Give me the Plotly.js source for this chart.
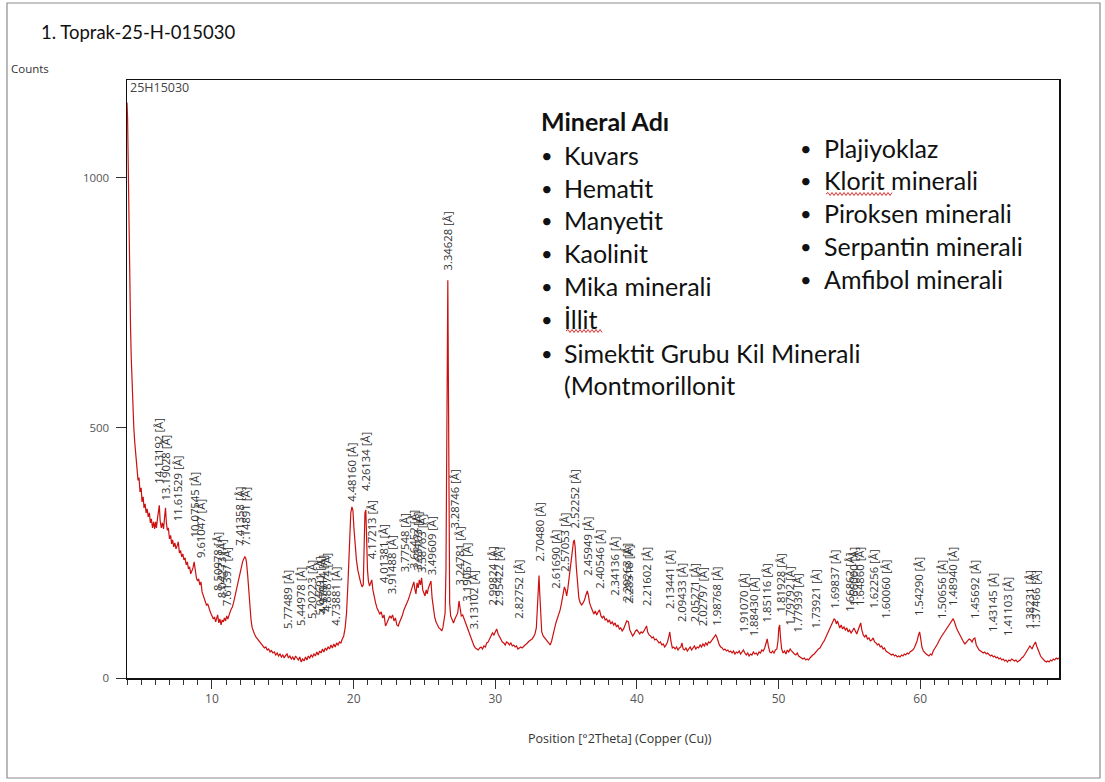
<!DOCTYPE html>
<html>
<head>
<meta charset="utf-8">
<script src="https://cdn.plot.ly/plotly-3.0.1.min.js"></script>
<style>
  html, body { margin: 0; padding: 0; background: #fff; }
  #chart { width: 1105px; height: 782px; }
</style>
</head>
<body>
<div id="chart"></div>
<script>
// ---------- DATA ----------
const twoTheta = [
4.00,4.04,4.08,4.12,4.16,4.20,4.25,4.30,4.36,4.42,4.48,4.55,4.62,4.70,4.78,4.85,4.92,5.00,5.06,5.14,5.20,5.28,5.35,5.42,5.50,5.58,5.65,5.72,5.80,5.88,5.95,6.02,6.08,6.15,6.22,6.28,6.34,6.42,6.50,6.58,6.65,6.72,6.78,6.85,6.92,7.00,7.08,7.15,7.22,7.30,7.38,7.46,7.55,7.62,7.70,7.78,7.86,7.94,8.02,8.10,8.18,8.26,8.34,8.42,8.50,8.58,8.66,8.74,8.82,8.90,8.98,9.06,9.14,9.22,9.30,9.38,9.46,9.54,9.62,9.70,9.78,9.86,9.94,10.02,10.10,10.18,10.26,10.34,10.40,10.48,10.56,10.64,10.72,10.80,10.88,10.96,11.04,11.12,11.20,11.28,11.36,11.44,11.52,11.60,11.68,11.76,11.84,11.92,12.00,12.08,12.16,12.24,12.32,12.38,12.44,12.52,12.60,12.68,12.76,12.84,12.92,13.00,13.10,13.20,13.30,13.40,13.50,13.60,13.70,13.80,13.90,14.00,14.10,14.20,14.30,14.40,14.50,14.60,14.70,14.80,14.90,15.00,15.10,15.20,15.30,15.40,15.50,15.60,15.70,15.80,15.90,16.00,16.10,16.20,16.30,16.40,16.50,16.60,16.70,16.80,16.90,17.00,17.10,17.20,17.30,17.40,17.50,17.60,17.70,17.80,17.90,18.00,18.10,18.20,18.30,18.40,18.50,18.60,18.70,18.80,18.90,19.00,19.10,19.20,19.30,19.40,19.50,19.60,19.70,19.80,19.88,19.95,20.02,20.10,20.20,20.30,20.40,20.50,20.60,20.68,20.74,20.80,20.86,20.92,20.98,21.05,21.12,21.20,21.28,21.36,21.45,21.55,21.65,21.75,21.85,21.95,22.05,22.15,22.25,22.35,22.45,22.55,22.65,22.75,22.85,22.95,23.05,23.15,23.25,23.35,23.45,23.55,23.65,23.75,23.85,23.95,24.05,24.15,24.25,24.32,24.40,24.48,24.56,24.64,24.72,24.80,24.88,24.96,25.04,25.12,25.20,25.28,25.36,25.46,25.54,25.62,25.72,25.82,25.92,26.02,26.12,26.22,26.30,26.38,26.46,26.52,26.57,26.61,26.65,26.69,26.73,26.78,26.85,26.95,27.05,27.15,27.25,27.35,27.44,27.52,27.60,27.70,27.80,27.90,28.00,28.10,28.20,28.30,28.40,28.50,28.60,28.70,28.80,28.90,29.00,29.10,29.20,29.30,29.40,29.50,29.60,29.70,29.80,29.90,30.00,30.10,30.20,30.30,30.40,30.50,30.60,30.70,30.80,30.90,31.00,31.10,31.20,31.30,31.40,31.50,31.60,31.70,31.80,31.90,32.00,32.10,32.20,32.30,32.40,32.50,32.60,32.70,32.80,32.90,32.98,33.04,33.09,33.14,33.20,33.28,33.38,33.48,33.58,33.68,33.78,33.88,33.98,34.08,34.18,34.28,34.38,34.48,34.58,34.68,34.78,34.88,34.96,35.04,35.12,35.20,35.28,35.36,35.44,35.52,35.58,35.64,35.72,35.80,35.90,36.00,36.10,36.20,36.30,36.40,36.50,36.58,36.66,36.76,36.86,36.96,37.06,37.16,37.26,37.36,37.46,37.56,37.66,37.76,37.86,37.96,38.06,38.16,38.26,38.36,38.46,38.56,38.66,38.76,38.86,38.96,39.06,39.16,39.28,39.40,39.50,39.60,39.70,39.80,39.90,40.00,40.10,40.20,40.30,40.40,40.50,40.60,40.68,40.76,40.86,40.96,41.06,41.16,41.26,41.36,41.46,41.56,41.66,41.76,41.86,41.96,42.06,42.16,42.26,42.32,42.40,42.50,42.60,42.70,42.80,42.90,43.00,43.10,43.18,43.26,43.36,43.46,43.56,43.66,43.76,43.86,43.96,44.06,44.16,44.26,44.36,44.46,44.56,44.66,44.76,44.86,44.96,45.06,45.16,45.26,45.36,45.46,45.56,45.64,45.72,45.82,45.92,46.02,46.12,46.22,46.32,46.42,46.52,46.62,46.72,46.82,46.92,47.02,47.12,47.22,47.32,47.42,47.52,47.62,47.72,47.82,47.92,48.02,48.12,48.22,48.32,48.42,48.52,48.62,48.72,48.82,48.92,49.02,49.12,49.20,49.28,49.38,49.48,49.58,49.68,49.78,49.88,49.96,50.02,50.08,50.14,50.22,50.32,50.42,50.52,50.62,50.72,50.82,50.92,51.02,51.12,51.22,51.32,51.42,51.52,51.62,51.72,51.82,51.92,52.02,52.12,52.22,52.32,52.42,52.52,52.62,52.72,52.82,52.92,53.02,53.12,53.22,53.32,53.42,53.52,53.62,53.72,53.82,53.92,54.00,54.08,54.16,54.24,54.32,54.42,54.52,54.62,54.72,54.82,54.92,55.02,55.12,55.22,55.32,55.42,55.52,55.62,55.72,55.80,55.88,55.98,56.08,56.18,56.28,56.38,56.48,56.58,56.68,56.78,56.88,56.98,57.08,57.18,57.28,57.38,57.48,57.58,57.68,57.78,57.88,57.98,58.08,58.18,58.28,58.38,58.48,58.58,58.68,58.78,58.88,58.98,59.08,59.18,59.28,59.38,59.48,59.58,59.68,59.78,59.88,59.96,60.04,60.12,60.22,60.32,60.42,60.52,60.62,60.72,60.82,60.92,61.02,61.12,61.22,61.32,61.42,61.52,61.62,61.72,61.82,61.92,62.02,62.12,62.22,62.32,62.40,62.48,62.56,62.66,62.76,62.86,62.96,63.06,63.16,63.26,63.36,63.46,63.56,63.66,63.76,63.86,63.96,64.06,64.16,64.26,64.36,64.46,64.56,64.66,64.76,64.86,64.96,65.06,65.16,65.26,65.36,65.46,65.56,65.66,65.76,65.86,65.96,66.06,66.16,66.26,66.36,66.46,66.56,66.66,66.76,66.86,66.96,67.06,67.16,67.26,67.36,67.46,67.56,67.66,67.74,67.82,67.90,67.98,68.06,68.14,68.22,68.30,68.40,68.50,68.60,68.70,68.80,68.90,69.00,69.10,69.20,69.30,69.40,69.50,69.60,69.70,69.80
];
const counts = [
1150,1120,1040,940,850,770,700,640,580,530,500,470,445,420,395,400,372,380,352,362,340,348,330,338,322,330,310,318,300,312,298,312,300,318,330,345,315,300,310,298,320,340,310,295,300,278,285,268,276,262,270,258,265,272,250,255,242,248,236,240,226,232,218,222,208,214,220,232,210,200,194,198,186,192,172,165,158,152,145,148,138,134,128,124,118,122,112,120,126,110,118,106,116,112,120,114,124,118,128,132,138,142,150,160,170,180,195,205,214,222,232,238,242,240,230,205,170,140,115,100,92,88,82,78,75,70,68,64,60,62,56,58,52,55,50,52,46,50,44,48,42,46,40,45,48,40,44,38,42,36,44,40,36,42,32,38,34,42,36,44,40,46,42,48,44,52,46,54,50,58,52,60,56,62,58,66,60,68,62,70,66,72,70,78,84,100,130,190,270,330,342,335,300,262,235,215,200,190,182,186,260,330,336,270,215,192,184,190,196,176,160,150,140,134,128,132,120,126,104,110,118,124,120,126,114,120,106,104,112,118,126,136,142,150,156,164,172,182,192,178,168,190,180,196,186,200,176,170,164,176,168,180,186,194,160,140,122,112,106,100,98,94,100,112,130,220,500,780,795,600,300,150,124,116,110,118,124,130,154,140,124,126,118,112,104,96,86,76,70,64,60,58,56,60,62,58,64,62,70,72,78,84,90,86,94,98,88,82,76,72,70,66,72,70,66,70,64,66,62,64,58,60,62,60,64,66,68,72,74,76,78,82,88,100,140,190,205,170,120,92,84,80,78,72,68,66,74,84,98,110,118,126,136,150,168,182,176,164,178,196,214,238,262,272,276,262,222,188,160,150,146,150,156,166,174,164,150,142,136,128,134,126,132,136,124,120,124,116,118,112,116,108,112,106,110,102,106,98,100,94,98,104,114,112,96,90,84,88,94,96,92,88,92,90,94,100,104,92,86,84,80,82,76,78,74,70,72,66,68,62,66,72,84,92,74,60,62,58,62,56,60,62,70,58,56,60,54,58,62,56,60,64,58,62,60,66,62,68,64,70,66,72,70,74,76,80,86,82,74,66,62,60,56,58,54,56,52,54,50,54,48,52,50,54,48,52,56,50,46,50,44,48,46,52,48,50,46,52,50,56,54,60,70,78,64,52,50,54,50,56,58,74,100,106,80,58,50,54,48,56,52,58,54,50,48,46,50,44,42,40,38,40,36,38,36,40,44,46,48,52,54,58,60,66,70,74,80,86,92,98,104,110,118,116,108,114,104,100,106,98,102,96,100,92,96,90,94,100,94,88,96,104,110,96,86,82,86,78,80,74,76,80,72,70,66,68,62,64,58,60,54,52,50,48,46,48,44,46,42,44,42,46,44,48,46,50,48,52,54,56,60,66,74,86,92,78,62,54,50,48,46,44,48,46,54,58,62,68,74,80,84,88,92,96,100,104,110,114,118,114,106,100,94,88,82,76,72,68,72,74,78,76,72,78,80,66,60,56,54,52,50,52,48,50,46,44,46,42,44,40,42,38,40,36,38,34,36,32,36,34,38,36,34,36,32,34,36,40,42,46,50,54,60,64,60,58,64,70,72,64,58,50,44,40,36,34,32,34,32,36,34,38,36,40,38,40
];

// peak labels: position (°2θ), d-spacing text, label base height (counts)
const peakPos = [6.25,6.72,7.62,8.77,9.20,10.39,10.70,11.04,11.93,12.37,15.33,16.25,17.03,17.56,17.80,18.13,18.71,19.85,20.85,21.28,22.13,22.70,23.55,24.27,24.50,24.80,25.46,26.62,27.10,27.44,27.95,28.48,29.78,30.23,31.62,33.09,34.24,34.87,35.56,36.50,37.35,38.41,39.27,39.40,40.68,42.31,43.16,44.08,44.65,45.60,47.55,48.26,49.18,50.10,50.74,51.30,52.58,53.94,54.99,55.30,55.72,56.68,57.53,59.89,61.50,62.29,63.84,65.11,66.17,67.73,68.17];
const peakD = ["14.13192","13.19028","11.61529","10.07545","9.61047","8.50978","8.04273","7.61397","7.41358","7.14891","5.77489","5.44978","5.20223","5.04691","4.97914","4.88874","4.73881","4.48160","4.26134","4.17213","4.01381","3.91488","3.77548","3.66452","3.63103","3.58763","3.49609","3.34628","3.28746","3.24781","3.19067","3.13102","2.99824","2.95422","2.82752","2.70480","2.61690","2.57053","2.52252","2.45949","2.40546","2.34136","2.29263","2.28518","2.21602","2.13441","2.09433","2.05271","2.02797","1.98768","1.91070","1.88430","1.85116","1.81928","1.79792","1.77939","1.73921","1.69837","1.66862","1.66000","1.64860","1.62256","1.60060","1.54290","1.50656","1.48940","1.45692","1.43145","1.41103","1.38231","1.37466"];
const peakLabelBase = [386,352,312,278,238,172,158,142,262,262,96,102,116,122,126,129,102,350,372,236,188,166,210,215,212,208,204,812,296,182,150,96,142,142,116,230,176,210,296,202,176,162,150,146,142,136,110,110,102,102,90,82,110,130,102,90,96,136,130,142,142,136,116,122,116,142,116,90,82,96,96];

const tickVals = [0, 500, 1000];
const xTickVals = [10, 20, 30, 40, 50, 60];

const mineralsLeft = ["Kuvars","Hematit","Manyetit","Kaolinit","Mika minerali","İllit","Simektit Grubu Kil Minerali"];
const mineralsLeftCont = "(Montmorillonit";
const mineralsRight = ["Plajiyoklaz","Klorit minerali","Piroksen minerali","Serpantin minerali","Amfibol minerali"];

// ---------- LAYOUT HELPERS (pixel -> paper) ----------
const L = 127, T = 80, R = 1059, B = 678;
const px = p => (p - L) / (R - L);
const py = p => (B - p) / (B - T);

const annotations = [];

// peak labels
for (let i = 0; i < peakPos.length; i++) {
  annotations.push({
    x: peakPos[i], y: peakLabelBase[i], xref: 'x', yref: 'y',
    text: peakD[i] + ' [Å]', textangle: -90, showarrow: false,
    xanchor: 'center', yanchor: 'bottom', borderpad: 0,
    font: {family: 'Open Sans, sans-serif', size: 11.3, color: '#333'}
  });
}

// texts around the chart
annotations.push({x: px(39), y: py(32), xref: 'paper', yref: 'paper', xanchor: 'left', yanchor: 'middle',
  text: '1. Toprak-25-H-015030', showarrow: false, font: {family: 'Lato, sans-serif', size: 18.5, color: '#111'}});
annotations.push({x: px(9), y: py(69), xref: 'paper', yref: 'paper', xanchor: 'left', yanchor: 'middle',
  text: 'Counts', showarrow: false, font: {family: 'Open Sans, sans-serif', size: 11.5, color: '#333'}});
annotations.push({x: px(128), y: py(87), xref: 'paper', yref: 'paper', xanchor: 'left', yanchor: 'middle',
  text: '25H15030', showarrow: false, font: {family: 'Open Sans, sans-serif', size: 12.5, color: '#444'}});
annotations.push({x: px(620), y: py(738), xref: 'paper', yref: 'paper', xanchor: 'center', yanchor: 'middle',
  text: 'Position [°2Theta] (Copper (Cu))', showarrow: false, font: {family: 'Open Sans, sans-serif', size: 12.5, color: '#333'}});

// mineral list
const listFont = {family: 'Lato, sans-serif', size: 25, color: '#111'};
annotations.push({x: px(539), y: py(121), xref: 'paper', yref: 'paper', xanchor: 'left', yanchor: 'middle',
  text: '<b>Mineral Adı</b>', showarrow: false, font: {family: 'Lato, sans-serif', size: 25, color: '#111'}});
const leftY = [155, 188, 220, 253, 286, 319, 353];
mineralsLeft.forEach((m, i) => {
  annotations.push({x: px(547), y: py(leftY[i]), xref: 'paper', yref: 'paper', xanchor: 'center', yanchor: 'middle',
    text: '•', showarrow: false, font: {family: 'Lato, sans-serif', size: 20, color: '#111'}});
  annotations.push({x: px(562), y: py(leftY[i]), xref: 'paper', yref: 'paper', xanchor: 'left', yanchor: 'middle',
    text: m, showarrow: false, font: listFont});
});
annotations.push({x: px(562), y: py(385), xref: 'paper', yref: 'paper', xanchor: 'left', yanchor: 'middle',
  text: mineralsLeftCont, showarrow: false, font: listFont});
const rightY = [148, 180, 213, 246, 279];
mineralsRight.forEach((m, i) => {
  annotations.push({x: px(806), y: py(rightY[i]), xref: 'paper', yref: 'paper', xanchor: 'center', yanchor: 'middle',
    text: '•', showarrow: false, font: {family: 'Lato, sans-serif', size: 20, color: '#111'}});
  annotations.push({x: px(822), y: py(rightY[i]), xref: 'paper', yref: 'paper', xanchor: 'left', yanchor: 'middle',
    text: m, showarrow: false, font: listFont});
});

// wavy spell-check underlines and outer frame
function wavy(x0, x1, y) {
  let d = 'M' + px(x0) + ',' + py(y);
  let up = true;
  for (let x = x0 + 2; x <= x1; x += 2) {
    d += ' L' + px(x) + ',' + py(y + (up ? -1.5 : 1.5));
    up = !up;
  }
  return d;
}
const shapes = [
  {type: 'rect', xref: 'paper', yref: 'paper', x0: px(7), x1: px(1100), y0: py(778), y1: py(3),
   line: {color: '#8c8c8c', width: 1.2}, fillcolor: 'rgba(0,0,0,0)'},
  {type: 'path', xref: 'paper', yref: 'paper', path: wavy(826, 892, 194), line: {color: '#e03030', width: 1}},
  {type: 'path', xref: 'paper', yref: 'paper', path: wavy(566, 602, 331), line: {color: '#e03030', width: 1}}
];

const trace = {
  x: twoTheta, y: counts, type: 'scatter', mode: 'lines',
  line: {color: '#cc1010', width: 1.2}, hoverinfo: 'x+y'
};

const layout = {
  width: 1105, height: 782,
  margin: {l: L, r: 1105 - R, t: T, b: 782 - B, pad: 0},
  paper_bgcolor: '#fff', plot_bgcolor: '#fff',
  showlegend: false,
  font: {family: 'Open Sans, sans-serif', size: 11, color: '#444'},
  xaxis: {
    range: [4, 69.8], tickmode: 'array', tickvals: xTickVals,
    ticks: 'outside', ticklen: 9, tickwidth: 1, tickcolor: '#333',
    showline: true, linecolor: '#111', linewidth: 1.5, mirror: true,
    showgrid: false, zeroline: false,
    tickfont: {family: 'Open Sans, sans-serif', size: 12, color: '#555'},
    minor: {dtick: 1, tick0: 0, ticks: 'outside', ticklen: 5, tickwidth: 1, tickcolor: '#333', showgrid: false}
  },
  yaxis: {
    range: [0, 1195], tickmode: 'array', tickvals: tickVals,
    ticks: 'outside', ticklen: 10, tickwidth: 1, tickcolor: '#333',
    showline: true, linecolor: '#111', linewidth: 1.5, mirror: true,
    showgrid: false, zeroline: false, ticklabelstandoff: 4,
    tickfont: {family: 'Open Sans, sans-serif', size: 11.5, color: '#555'}
  },
  annotations: annotations,
  shapes: shapes
};

Plotly.newPlot('chart', [trace], layout, {displayModeBar: false, staticPlot: true});
</script>
</body>
</html>
